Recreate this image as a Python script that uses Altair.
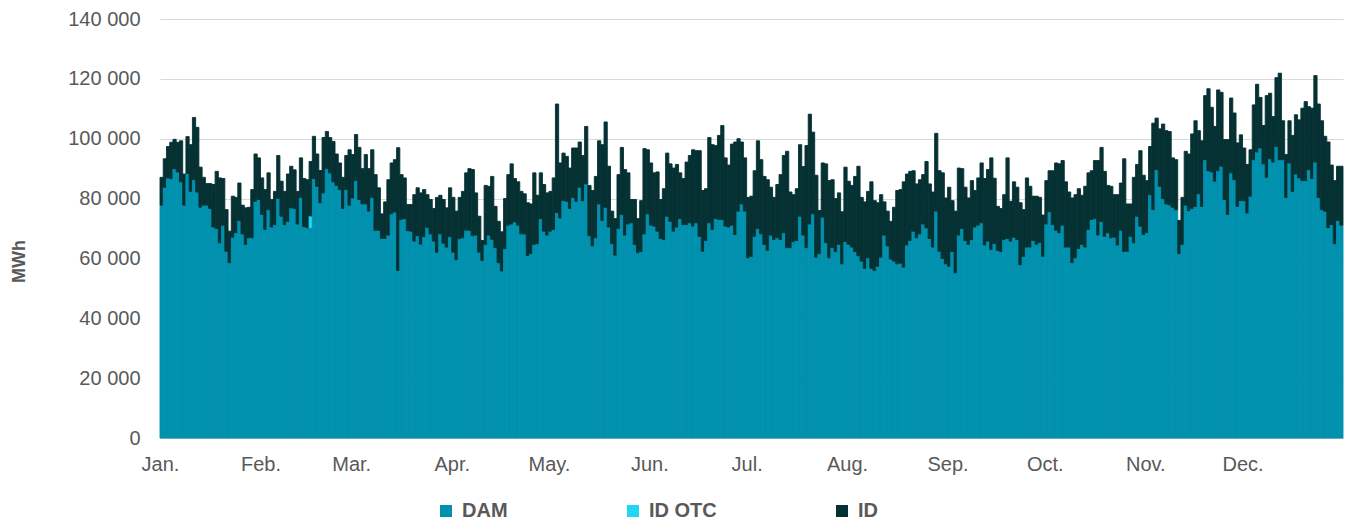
import json
import altair as alt
import pandas as pd

# ---- data (daily values, MWh) ----
MONTHS = ["Jan.", "Feb.", "Mar.", "Apr.", "May.", "Jun.", "Jul.", "Aug.", "Sep.", "Oct.", "Nov.", "Dec."]
MONTH_START_DAY = [0, 31, 59, 90, 120, 151, 181, 212, 243, 273, 304, 334]
Y_TICKS = [0, 20000, 40000, 60000, 80000, 100000, 120000, 140000]
SERIES = ["DAM", "ID OTC", "ID"]
COLORS = ["#0091ae", "#22d5f5", "#063133"]

DAM = [
    77800, 83800, 86900, 86700, 90000, 88900, 85600, 77800, 88400, 82400,
    86300, 82200, 77100, 77800, 77800, 76700, 70500, 70000, 65200, 71100,
    62400, 58600, 67100, 68600, 72700, 68200, 64700, 66900, 66900, 79100,
    79700, 74700, 69700, 76300, 70500, 71300, 80100, 74100, 71300, 72400,
    76900, 76700, 71500, 80400, 70600, 70300, 70300, 86700, 84100, 78600,
    81900, 90000, 88600, 85600, 84400, 83000, 76700, 83000, 77800, 80200,
    86000, 79700, 78200, 78200, 75800, 80400, 69400, 69400, 66700, 66700,
    67800, 74900, 75500, 56000, 73000, 73300, 69300, 69100, 65800, 67600,
    64800, 67300, 70400, 68200, 65800, 62100, 68200, 65100, 63800, 67300,
    62100, 59600, 66600, 66900, 69400, 69400, 67600, 67800, 62100, 59300,
    64700, 67800, 66400, 63600, 58600, 55800, 63300, 71100, 71500, 72200,
    71100, 68200, 68200, 61000, 61600, 64700, 64900, 73300, 69100, 67800,
    69100, 69700, 75300, 73500, 79300, 79100, 76700, 80400, 79100, 83800,
    79300, 84900, 67600, 64200, 66900, 78200, 72700, 77100, 70500, 64900,
    61100, 70000, 74700, 67800, 71500, 71900, 64700, 61900, 62300, 68200,
    74900, 71100, 70800, 69100, 66700, 66300, 74100, 72400, 69100, 70500,
    73300, 71300, 71300, 71900, 70800, 71900, 67400, 62400, 66000, 71900,
    69700, 73300, 73000, 73000, 70800, 70500, 71100, 68000, 75800, 78200,
    75800, 60200, 60700, 67400, 70000, 68200, 64700, 62700, 67800, 66300,
    66900, 66300, 68600, 63600, 63600, 65600, 66000, 74100, 67800, 63600,
    71500, 74900, 60400, 61600, 73800, 65300, 60200, 63600, 62300, 64700,
    58200, 65600, 64700, 63800, 62300, 60900, 59100, 56700, 60200, 56700,
    56000, 57400, 60400, 67800, 64200, 59800, 59100, 58200, 58400, 57100,
    64500, 66000, 69100, 66900, 68200, 71500, 70200, 66700, 63800, 75800,
    62400, 60000, 58200, 57400, 62300, 55200, 67800, 70000, 66000, 64700,
    66300, 70500, 71100, 71900, 64500, 65800, 63000, 65000, 62700, 62300,
    66300, 66700, 65800, 67100, 66300, 57900, 60700, 63800, 63800, 66000,
    64700, 65300, 60700, 71500, 75600, 71300, 69400, 68600, 71100, 63800,
    63800, 58600, 60200, 63300, 64700, 63800, 69700, 73000, 73300, 67800,
    72400, 67400, 68600, 66900, 67100, 64500, 69400, 62300, 62400, 67400,
    65200, 74100, 70800, 68000, 68600, 81300, 76300, 89700, 84100, 80000,
    78200, 77900, 77100, 76300, 61600, 64700, 77800, 76000, 76700, 77400,
    81600, 77400, 93000, 89300, 88900, 85800, 89300, 90800, 79700, 74700,
    88600, 86300, 77400, 79300, 79300, 75200, 80800, 93000, 95600, 96900,
    91600, 87100, 93300, 92200, 97400, 93000, 93000, 80400, 91900, 82400,
    88200, 86900, 86000, 86000, 89700, 86700, 92200, 80400, 76300, 75800,
    70300, 71300, 64900, 72700, 71100,
]

ID = [
    9300, 9500, 10500, 12100, 9800, 9900, 13700, 10400, 12300, 15600,
    20800, 21600, 13400, 9300, 7200, 8300, 14200, 19100, 21700, 15600,
    13900, 10500, 13700, 11800, 12500, 9600, 12200, 10200, 16100, 15800,
    13900, 12200, 13300, 12300, 9200, 11100, 14300, 11700, 11100, 15800,
    13900, 12900, 10900, 13200, 16100, 16000, 18200, 14100, 10800, 10800,
    18500, 12400, 11800, 13500, 10500, 8900, 10400, 11400, 18500, 14500,
    15400, 17400, 11800, 16500, 14200, 15900, 18600, 14200, 8200, 12200,
    18500, 17000, 17500, 41000, 15000, 13600, 8700, 8900, 15500, 16000,
    17100, 15700, 10900, 11500, 10900, 18300, 12900, 14600, 13100, 16300,
    18300, 16200, 13800, 15500, 19200, 20600, 22100, 14100, 12000, 6700,
    19700, 16300, 21000, 13800, 13800, 13100, 16700, 16900, 20100, 14500,
    14500, 14200, 13400, 17600, 16600, 23900, 16200, 15300, 15600, 14100,
    13300, 17200, 36300, 18400, 15900, 15000, 13500, 16500, 17800, 15100,
    15100, 19200, 16800, 18500, 20500, 21100, 25300, 28500, 20300, 10900,
    12200, 18000, 22400, 21900, 17100, 7800, 15000, 11400, 17000, 28500,
    21400, 20800, 17800, 19800, 13000, 17000, 21100, 19200, 21100, 20900,
    15300, 15400, 20900, 22500, 25500, 24100, 28600, 20300, 17300, 28500,
    28300, 24400, 28100, 31400, 22800, 20700, 27100, 30900, 24200, 20700,
    17800, 20200, 20100, 21900, 29300, 24800, 22700, 23600, 16000, 14100,
    17800, 21700, 25800, 32200, 18600, 15700, 17300, 23900, 22900, 34100,
    36700, 27300, 27400, 14400, 18100, 26300, 25800, 22700, 17700, 17200,
    17400, 24900, 21100, 20600, 25100, 29900, 21300, 22200, 22200, 28900,
    23300, 21200, 20900, 11100, 11600, 12600, 18000, 24500, 24600, 28500,
    23700, 23100, 20200, 18000, 18100, 16500, 22200, 18200, 18400, 26000,
    26900, 28600, 22000, 26400, 17000, 20600, 22400, 20000, 17800, 15500,
    19700, 12200, 15800, 20000, 22200, 23900, 30600, 21800, 14700, 14400,
    15000, 26900, 13300, 18500, 17500, 20700, 15600, 23100, 20300, 14800,
    16100, 15100, 13800, 14500, 13700, 18000, 22500, 23000, 21600, 21800,
    18400, 21600, 21100, 20000, 16400, 20300, 18900, 16300, 19400, 24900,
    24700, 21700, 15800, 17200, 14200, 16800, 15800, 31000, 15800, 10800,
    21900, 17300, 25200, 19800, 17400, 16100, 28900, 17200, 19200, 24900,
    24500, 24500, 16500, 16700, 11100, 15700, 18000, 18900, 24900, 28600,
    21100, 21900, 21400, 27400, 21600, 18300, 27000, 24700, 20000, 25000,
    25000, 22300, 21200, 22000, 17600, 16200, 15500, 18300, 22600, 16900,
    12800, 27300, 21900, 15200, 23000, 28900, 13000, 14300, 14100, 18700,
    19800, 19400, 24200, 26400, 21000, 23500, 28900, 31200, 29700, 25000,
    28600, 19900, 21100, 18100, 19700,
]

# ID OTC is only visible on one day (mid-February); all other days read as 0
ID_OTC_DAYS = [46]
ID_OTC_VALUES = [3900]

N_DAYS = len(DAM)
ID_OTC = [0] * N_DAYS
for d, v in zip(ID_OTC_DAYS, ID_OTC_VALUES):
    ID_OTC[d] = v

rows = []
for i in range(N_DAYS):
    for k, (name, vals) in enumerate(zip(SERIES, [DAM, ID_OTC, ID])):
        rows.append({"day": i, "series": name, "order": k, "value": vals[i]})
df = pd.DataFrame(rows)

FONT = "Liberation Sans"
GREY = "#595959"

x_label_expr = "{}[indexof({}, datum.value)]".format(json.dumps(MONTHS), json.dumps(MONTH_START_DAY))

chart = (
    alt.Chart(df)
    .transform_stack(
        stack="value",
        groupby=["day"],
        as_=["y0", "y1"],
        sort=[alt.SortField("order", order="ascending")],
    )
    .transform_filter("datum.value > 0")
    .transform_calculate(day_end="datum.day + 1")
    .mark_bar(strokeWidth=0.9)
    .encode(
        x=alt.X(
            "day:Q",
            scale=alt.Scale(domain=[0, N_DAYS], nice=False, zero=False),
            axis=alt.Axis(
                values=MONTH_START_DAY,
                labelExpr=x_label_expr,
                title=None,
                grid=False,
                ticks=False,
                domain=True,
                domainColor="#bfbfbf",
                domainWidth=1,
                labelFont=FONT,
                labelFontSize=20,
                labelColor=GREY,
                labelPadding=16,
                labelAlign="center",
            ),
        ),
        x2="day_end:Q",
        y=alt.Y(
            "y0:Q",
            scale=alt.Scale(domain=[0, 140000], nice=False),
            axis=alt.Axis(
                values=Y_TICKS,
                labelExpr="replace(format(datum.value, ','), ',', ' ')",
                title="MWh",
                titleFont=FONT,
                titleFontSize=18,
                titleFontWeight="bold",
                titleColor=GREY,
                titleAngle=270,
                titleX=-141,
                titleY=242,
                titleAlign="center",
                titleBaseline="middle",
                grid=True,
                gridColor="#d9d9d9",
                gridWidth=1,
                ticks=False,
                domain=False,
                labelFont=FONT,
                labelFontSize=20,
                labelColor=GREY,
                labelPadding=20,
            ),
        ),
        y2="y1:Q",
        color=alt.Color(
            "series:N",
            scale=alt.Scale(domain=SERIES, range=COLORS),
            legend=alt.Legend(
                title=None,
                orient="none",
                legendX=276,
                legendY=482,
                direction="horizontal",
                columns=3,
                symbolType="square",
                symbolSize=144,
                symbolStrokeWidth=0,
                labelFont=FONT,
                labelFontSize=20,
                labelFontWeight="bold",
                labelColor=GREY,
                labelOffset=6,
                columnPadding=115,
            ),
        ),
        stroke=alt.Stroke(
            "series:N",
            scale=alt.Scale(domain=SERIES, range=COLORS),
            legend=None,
        ),
    )
    .properties(
        width=1183,
        height=419,
        autosize=alt.AutoSizeParams(type="none"),
        padding={"left": 152, "top": 11, "right": 1, "bottom": 86},
        background="white",
    )
    .configure_view(stroke=None)
)

chart.save("out.html", embed_options={"renderer": "svg", "actions": False})
